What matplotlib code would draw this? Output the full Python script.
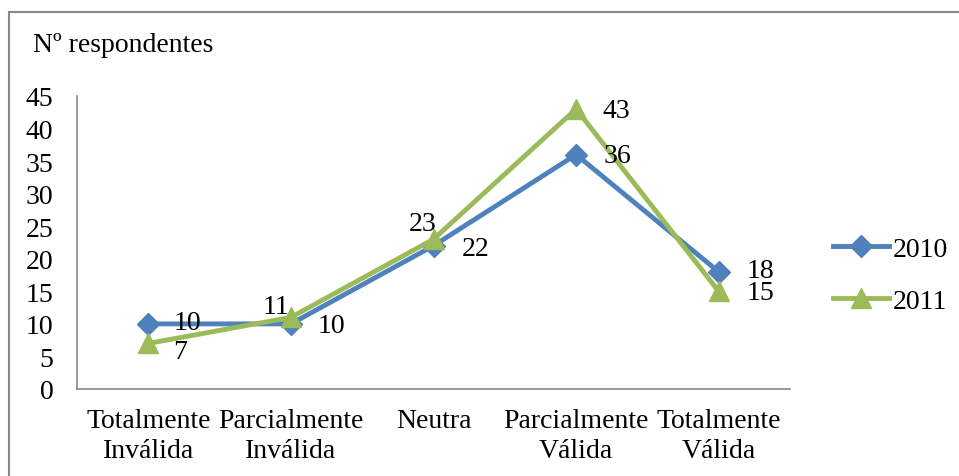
import matplotlib.pyplot as plt
from matplotlib.patches import Rectangle

# datos
categorias = ['Totalmente\nInválida', 'Parcialmente\nInválida', 'Neutra',
              'Parcialmente\nVálida', 'Totalmente\nVálida']
valores_2010 = [10, 10, 22, 36, 18]
valores_2011 = [7, 11, 23, 43, 15]
series = ['2010', '2011']

# desplazamientos de las etiquetas (pt)
off_2010 = [(28, 1), (29, -1), (30, -2), (30, -1), (30, 1)]
off_2011 = [(23, -6), (-11, 8), (-8, 11.5), (29, -1), (30, -1)]

plt.rcParams['font.family'] = ['Liberation Serif', 'DejaVu Serif']

W, H = 959, 477
fig = plt.figure(figsize=(W / 100, H / 100), dpi=100)

# borde del gráfico
fig.patches.append(Rectangle((9 / W, -0.1), 1.2, 1 - 13 / H + 0.1,
                             transform=fig.transFigure, fill=False,
                             edgecolor='#888888', linewidth=1.5))

ax = fig.add_axes([77 / W, (H - 390) / H, (790 - 77) / W, (390 - 97) / H])

x = list(range(len(categorias)))
azul = '#4F81BD'
verde = '#9BBB59'
fs = 20

ax.plot(x, valores_2010, color=azul, linewidth=3.5, marker='D', markersize=11,
        label=series[0])
ax.plot(x, valores_2011, color=verde, linewidth=3.5, marker='^', markersize=15,
        label=series[1])

for xi, v, o in zip(x, valores_2010, off_2010):
    ax.annotate(str(v), (xi, v), xytext=o, textcoords='offset points',
                ha='center', va='center', fontsize=fs)
for xi, v, o in zip(x, valores_2011, off_2011):
    ax.annotate(str(v), (xi, v), xytext=o, textcoords='offset points',
                ha='center', va='center', fontsize=fs)

ax.set_xlim(-0.5, len(categorias) - 0.5)
ax.set_ylim(0, 45)
ax.set_yticks(range(0, 46, 5))
ax.set_xticks(x)
ax.set_xticklabels(categorias, fontsize=fs, linespacing=1.25)
ax.tick_params(axis='y', labelsize=fs, length=0, pad=17)
ax.tick_params(axis='x', length=0, pad=14)
for s in ['top', 'right']:
    ax.spines[s].set_visible(False)
for s in ['left', 'bottom']:
    ax.spines[s].set_color('#888888')
    ax.spines[s].set_linewidth(1.2)

fig.text(33 / W, 1 - 45 / H, 'Nº respondentes', fontsize=fs, va='center', ha='left')

fig.legend(loc='center left', bbox_to_anchor=(833 / W, 1 - 276 / H), frameon=False,
           fontsize=fs, handlelength=2.0, handletextpad=0.15, labelspacing=0.95,
           borderpad=0, borderaxespad=0, numpoints=1)

fig.savefig('out.png', dpi=100)
